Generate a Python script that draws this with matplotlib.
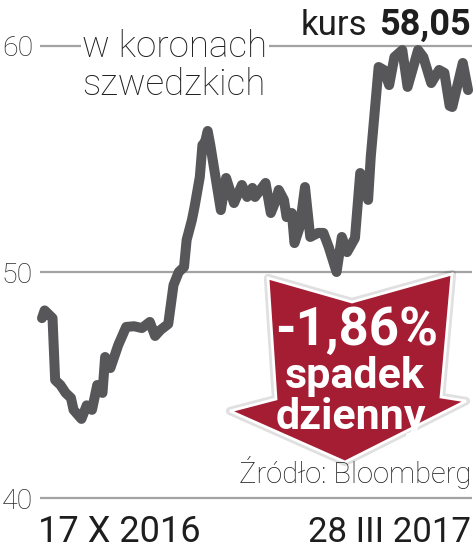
import matplotlib
matplotlib.use("Agg")
import matplotlib.pyplot as plt
from matplotlib.patches import Polygon
import pandas as pd

# kurs w koronach szwedzkich, 17 X 2016 - 28 III 2017
start = pd.Timestamp("2016-10-17")
day_offsets = [0, 1, 4, 5, 7, 9, 11, 12, 15, 17, 19, 21, 23, 24, 26, 29, 32, 35, 38,
               41, 43, 45, 48, 50, 52, 54, 55, 57, 58, 60, 61, 62, 63, 64, 68, 70, 73,
               76, 78, 80, 81, 85, 87, 89, 90, 92, 93, 95, 96, 98, 100, 102, 105, 107,
               109, 112, 114, 116, 119, 121, 122, 124, 125, 127, 128, 130, 132, 134,
               137, 139, 143, 145, 148, 151, 153, 155, 156, 160, 162]
prices = [47.96, 48.3, 47.96, 45.22, 45.0, 44.65, 44.43, 43.9, 43.5, 44.1, 43.9, 45.0,
          44.65, 46.24, 45.75, 46.77, 47.57, 47.6, 47.52, 47.79, 47.17, 47.43, 47.7,
          49.42, 50.0, 50.22, 51.42, 52.3, 52.88, 54.2, 55.62, 55.75, 56.24, 55.62,
          52.74, 54.16, 53.05, 53.85, 53.32, 53.72, 53.32, 53.94, 52.61, 53.19, 53.63,
          53.19, 52.43, 52.61, 51.28, 51.99, 53.76, 51.55, 51.73, 51.73, 51.11, 50.0,
          51.55, 50.88, 51.5, 54.38, 54.2, 53.19, 55.09, 57.74, 59.07, 58.94, 58.27,
          59.51, 59.82, 58.19, 59.82, 59.51, 58.36, 58.94, 58.81, 57.35, 57.3, 59.25,
          58.05]
dates = [start + pd.Timedelta(days=d) for d in day_offsets]

y_ticks = [40, 50, 60]
y_labels = ["40", "50", "60"]
last_price = "58,05"
change = "-1,86%"

W, H = 476, 550
LINE = "#575759"
GRID = "#a3a3a3"
RED = "#a51d33"
TXT = "#1e1e1e"

fig = plt.figure(figsize=(W / 100, H / 100), dpi=100)
ax = fig.add_axes([40 / W, 0, 432 / W, 1])
for s in ax.spines.values():
    s.set_visible(False)

ax.plot(dates, prices, color=LINE, lw=7.2, solid_joinstyle="round",
        solid_capstyle="round", zorder=5, clip_on=False)

ax.set_xlim(start - pd.Timedelta(days=0.76), start + pd.Timedelta(days=163.5))
ax.set_ylim(37.70, 62.035)
ax.set_xticks([])
ax.set_yticks(y_ticks, y_labels)
ax.tick_params(axis="y", length=0, pad=5, labelsize=20.5, labelcolor="#2a2a2a")
for lab in ax.get_yticklabels():
    lab.set_fontfamily("Roboto")
    lab.set_fontweight("light")
ax.yaxis.grid(True, color=GRID, lw=1.6)
ax.set_axisbelow(True)


def fx(x):
    return x / W


def fy(y):
    return 1 - y / H


# unit label over the top gridline
fig.text(fx(82), fy(95), "w koronach\nszwedzkich", fontsize=26.5, family="Roboto",
         weight="light", color=TXT, ha="left", va="baseline", linespacing=1.08,
         bbox=dict(facecolor="white", edgecolor="none", pad=1), zorder=3)

fig.text(fx(367), fy(35), "kurs", fontsize=25, family="Roboto", color=TXT,
         ha="right", va="baseline")
fig.text(fx(471), fy(35), last_price, fontsize=26, family="Roboto", weight="bold",
         color=TXT, ha="right", va="baseline")

# red arrow
arrow = [(268, 278), (352, 302), (452, 274), (441, 397), (466, 401), (345, 462),
         (230, 411), (276, 399)]
pts = [(fx(x), fy(y)) for x, y in arrow]
fig.patches.append(Polygon(pts, closed=True, transform=fig.transFigure,
                           facecolor="none", edgecolor="#000000", lw=6, alpha=0.12,
                           joinstyle="round", zorder=2))
fig.patches.append(Polygon(pts, closed=True, transform=fig.transFigure,
                           facecolor=RED, edgecolor="white", lw=2, zorder=3))

fig.text(fx(357), fy(345), change, fontsize=38, family="Roboto", weight="bold",
         color="white", ha="center", va="baseline", zorder=6)
fig.text(fx(355), fy(388), "spadek", fontsize=31, family="Roboto", weight="bold",
         color="white", ha="center", va="baseline", zorder=6)
fig.text(fx(351), fy(429), "dzienny", fontsize=31, family="Roboto", weight="bold",
         color="white", ha="center", va="baseline", zorder=6)

fig.text(fx(471), fy(483), "Źródło: Bloomberg", fontsize=21, family="Roboto",
         weight="light", color=TXT, ha="right", va="baseline", zorder=7)

fig.text(fx(38), fy(542), "17 X 2016", fontsize=26, family="Roboto", color=TXT,
         ha="left", va="baseline")
fig.text(fx(471), fy(542), "28 III 2017", fontsize=25, family="Roboto", color=TXT,
         ha="right", va="baseline")

fig.savefig("out.png", dpi=100, facecolor="white")
